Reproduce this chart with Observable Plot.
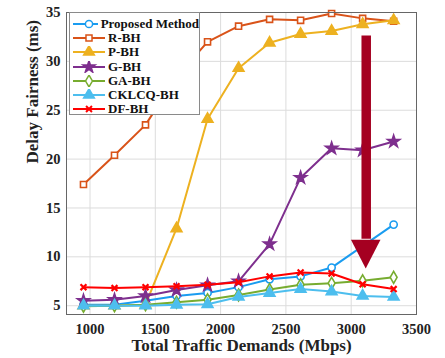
<!DOCTYPE html>
<html><head><meta charset="utf-8">
<script src="https://cdn.jsdelivr.net/npm/d3@7"></script>
<script src="https://cdn.jsdelivr.net/npm/@observablehq/plot@0.6"></script>
<style>
body{margin:0;background:#fff}
#chart{position:relative;width:445px;height:358px;font-family:"Liberation Serif","Times New Roman",serif;font-weight:bold}
#chart svg, #chart svg text{font-family:"Liberation Serif","Times New Roman",serif !important;font-weight:bold}
#legend{position:absolute;left:69px;top:12px;width:131px;height:103px;border:1px solid #8a8a8a;background:#fff;box-sizing:border-box;padding-top:4px}
.row{display:flex;align-items:center;height:14.2px;font-size:13px;color:#111;white-space:nowrap}
.row svg{margin-left:3px;margin-right:3px}
</style>
</head><body><div id="chart"></div>
<script>
const demands = [950, 1187.5, 1425, 1662.5, 1900, 2137.5, 2375, 2612.5, 2850, 3087.5, 3325];
const seriesNames = ["Proposed Method", "R-BH", "P-BH", "G-BH", "GA-BH", "CKLCQ-BH", "DF-BH"];
const proposed = [5.1, 5.1, 5.5, 6.0, 6.3, 6.9, 7.7, 8.0, 8.9, 11.1, 13.3];
const rbh      = [17.4, 20.4, 23.5, 28.4, 32.0, 33.6, 34.3, 34.2, 34.9, 34.4, 34.1];
const pbh      = [5.0, 5.0, 5.1, 12.9, 24.1, 29.3, 31.9, 32.8, 33.1, 33.8, 34.2];
const gbh      = [5.5, 5.6, 6.0, 6.6, 7.1, 7.5, 11.3, 18.1, 21.1, 20.9, 21.8];
const gabh     = [4.95, 5.0, 5.1, 5.35, 5.6, 6.1, 6.65, 7.15, 7.3, 7.55, 7.9];
const cklcq    = [5.0, 5.0, 5.0, 5.1, 5.15, 5.9, 6.3, 6.7, 6.45, 6.0, 5.9];
const dfbh     = [6.9, 6.8, 6.9, 7.0, 7.15, 7.4, 8.0, 8.4, 8.3, 7.2, 6.7];
const xTicks = [1000, 1500, 2000, 2500, 3000, 3500];
const yTicks = [5, 10, 15, 20, 25, 30, 35];
// annotation arrow (data units)
const arrowX = [3115];
const arrowTop = [32.6];
const arrowBase = [11.7];
const arrowTip = [8.75];
const arrowHalfWidth = [113];

const FONT = "Liberation Serif";
const colors = ["#1a9cf0", "#d95319", "#edb120", "#7e2f8e", "#77ac30", "#4dbeee", "#ff0000"];
const symbols = ["circle", "square", "triangle", "star", "diamond", "triangle", "times"];
const filled = [false, false, true, true, false, true, false];
const radii = [3.6, 3.4, 4.0, 3.8, 3.6, 4.0, 2.8];

const allValues = [proposed, rbh, pbh, gbh, gabh, cklcq, dfbh];
const rows = [];
seriesNames.forEach((name, i) => {
  allValues[i].forEach((v, j) => rows.push({series: name, idx: i, x: demands[j], y: v}));
});
const arrowHead = [
  {x: arrowX[0] - arrowHalfWidth[0], y1: arrowBase[0], y2: arrowBase[0]},
  {x: arrowX[0], y1: arrowBase[0], y2: arrowTip[0]},
  {x: arrowX[0] + arrowHalfWidth[0], y1: arrowBase[0], y2: arrowBase[0]}
];

const marks = [
  Plot.gridX(xTicks, {stroke: "#dcdcdc", strokeOpacity: 1, strokeWidth: 1}),
  Plot.gridY(yTicks, {stroke: "#dcdcdc", strokeOpacity: 1, strokeWidth: 1}),
  Plot.axisX(xTicks, {tickSize: 0, tickPadding: 9, fontSize: 14.5, fontWeight: "bold", fontFamily: FONT, label: null, tickFormat: d => String(d)}),
  Plot.axisY(yTicks, {tickSize: 0, tickPadding: 6, fontSize: 14.5, fontWeight: "bold", fontFamily: FONT, label: null, tickFormat: d => String(d)}),
];
seriesNames.forEach((name, i) => {
  const d = rows.filter(r => r.idx === i);
  marks.push(Plot.line(d, {x: "x", y: "y", stroke: colors[i], strokeWidth: 2}));
  marks.push(Plot.dot(d, {x: "x", y: "y", symbol: () => symbols[i], r: radii[i],
    stroke: colors[i], strokeWidth: symbols[i] === "times" ? 2.2 : 1.6,
    fill: filled[i] ? colors[i] : "white"}));
});
marks.push(Plot.ruleX(arrowX, {x: d => d, y1: arrowTop[0], y2: arrowBase[0] + 0.1, stroke: "#a50021", strokeWidth: 9.5}));
marks.push(Plot.areaY(arrowHead, {x: "x", y1: "y1", y2: "y2", fill: "#a50021", curve: "linear"}));
marks.push(Plot.frame({stroke: "#666", strokeWidth: 1}));
marks.push(Plot.text(["Total Traffic Demands (Mbps)"], {frameAnchor: "bottom", dy: 36, fontSize: 17, fontWeight: "bold", fontFamily: FONT, fill: "#222"}));
marks.push(Plot.text(["Delay Fairness (ms)"], {frameAnchor: "left", rotate: -90, dx: -34, fontSize: 17, fontWeight: "bold", fontFamily: FONT, fill: "#222"}));

const plot = Plot.plot({
  width: 445, height: 358,
  marginLeft: 66, marginRight: 29, marginTop: 12, marginBottom: 44,
  x: {domain: [820, 3500]},
  y: {domain: [4.1, 35]},
  style: {color: "#222", background: "#fff", overflow: "visible", fontFamily: FONT},
  marks
});
const chart = document.getElementById("chart");
chart.appendChild(plot);

// legend
const legend = document.createElement("div");
legend.id = "legend";
const symMap = {circle: d3.symbolCircle, square: d3.symbolSquare, triangle: d3.symbolTriangle, star: d3.symbolStar, diamond: d3.symbolDiamond, times: d3.symbolTimes};
seriesNames.forEach((name, i) => {
  const row = document.createElement("div");
  row.className = "row";
  const svg = d3.create("svg").attr("width", 32).attr("height", 12);
  svg.append("line").attr("x1", 0).attr("x2", 32).attr("y1", 6).attr("y2", 6).attr("stroke", colors[i]).attr("stroke-width", 2);
  svg.append("path").attr("transform", "translate(16,6)")
    .attr("d", d3.symbol(symMap[symbols[i]], Math.PI * radii[i] * radii[i])())
    .attr("stroke", colors[i]).attr("stroke-width", symbols[i] === "times" ? 2 : 1.5)
    .attr("fill", filled[i] ? colors[i] : "white");
  row.appendChild(svg.node());
  const t = document.createElement("span");
  t.textContent = name;
  row.appendChild(t);
  legend.appendChild(row);
});
chart.appendChild(legend);
</script>
</body></html>
